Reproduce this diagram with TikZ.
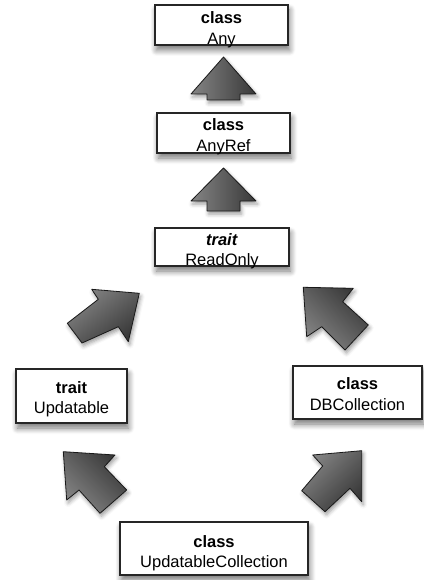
\documentclass[tikz,border=0pt]{standalone}
\usepackage{fontspec}
\setmainfont{Liberation Sans}
\usetikzlibrary{shadows.blur}
\tikzset{
  box/.style={draw=black!85, line width=1.3pt, fill=white, inner sep=0pt,
    blur shadow={shadow xshift=1.5pt, shadow yshift=-5pt, shadow blur radius=6pt, shadow blur steps=10, shadow opacity=55}},
  txt/.style={align=center, inner sep=0pt, font=\fontsize{16.5}{20.5}\selectfont},
  blk/.style={draw=black!90, line width=0.8pt, line join=round,
    top color=black!48, middle color=black!36, bottom color=black!78,
    blur shadow={shadow xshift=1.5pt, shadow yshift=-3pt, shadow blur radius=4pt, shadow opacity=40}},
}
\begin{document}
\begin{tikzpicture}[x=1pt, y=-1pt]
\useasboundingbox (0,0) rectangle (423,580);

% boxes
\node[box, minimum width=133pt, minimum height=40pt,
  label={[txt, yshift=-4.5pt]center:{\textbf{class}\\Any}}] (any) at (221.5,25) {};
\node[box, minimum width=133pt, minimum height=40pt,
  label={[txt, yshift=-3.5pt]center:{\textbf{class}\\AnyRef}}] (anyref) at (223.5,133) {};
\node[box, minimum width=134pt, minimum height=38pt,
  label={[txt, yshift=-4pt]center:{\textbf{\itshape trait}\\ReadOnly}}] (readonly) at (222,247) {};
\node[box, minimum width=111pt, minimum height=54pt,
  label={[txt, yshift=-3pt]center:{\textbf{trait}\\Updatable}}] (updatable) at (71.5,396) {};
\node[box, minimum width=129pt, minimum height=53pt,
  label={[txt, yshift=-1.5pt]center:{\textbf{class}\\DBCollection}}] (dbcoll) at (357.5,392.5) {};
\node[box, minimum width=188pt, minimum height=53pt,
  label={[txt, yshift=-4.5pt]center:{\textbf{class}\\UpdatableCollection}}] (upcoll) at (214,548.5) {};

% block arrows
% AnyRef -> Any
\path[blk, shading angle=90] (223.5,57) -- (256,94) -- (240,94) -- (240,100) -- (207,100) -- (207,94) -- (191,94) -- cycle;
% ReadOnly -> AnyRef
\path[blk, shading angle=90] (223.5,168) -- (256,201) -- (240,201) -- (240,211) -- (207,211) -- (207,201) -- (191,201) -- cycle;
% Updatable -> ReadOnly
\path[blk, shading angle=38] (139.3,293.3) -- (128.3,341.7) -- (118.3,326.7) -- (82,343) -- (67.3,323.3) -- (98.3,299.3) -- (91.7,289.3) -- cycle;
% DBCollection -> ReadOnly
\path[blk, shading angle=137] (303.3,287.3) -- (353.3,288.3) -- (342.7,301.7) -- (368.3,325) -- (345,350) -- (321.7,326.7) -- (306.7,336.7) -- cycle;
% UpdatableCollection -> Updatable
\path[blk, shading angle=135] (63.3,451.7) -- (115,455) -- (104.3,466.7) -- (126.7,490) -- (100,513.3) -- (79,490) -- (66.7,500) -- cycle;
% UpdatableCollection -> DBCollection
\path[blk, shading angle=46] (361.7,450.7) -- (361.7,501.7) -- (350,488.3) -- (325,511.7) -- (301.7,490.7) -- (322.7,466) -- (312.7,455) -- cycle;
\end{tikzpicture}
\end{document}
